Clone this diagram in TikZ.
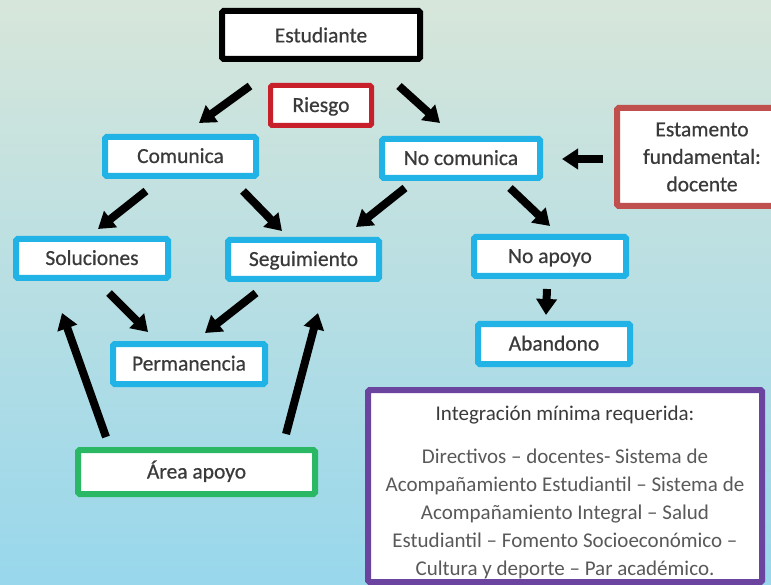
\documentclass[tikz,border=0pt]{standalone}
\usepackage{fontspec}
\setmainfont{Carlito}
\newfontfamily\labfont[FakeBold=0.6]{Carlito}
\usetikzlibrary{arrows.meta,calc}
\definecolor{bgtop}{HTML}{D7E6DA}
\definecolor{bgmid}{HTML}{B6DFE4}
\definecolor{bgbot}{HTML}{98D7EC}
\definecolor{txt}{HTML}{3A3A3A}
\definecolor{txtl}{HTML}{595959}
\definecolor{blu}{HTML}{22B3E6}
\definecolor{rieR}{HTML}{C8202A}
\definecolor{estR}{HTML}{C0504D}
\definecolor{grn}{HTML}{2BB865}
\definecolor{pur}{HTML}{6B44A0}
\begin{document}
\begin{tikzpicture}[x=1pt,y=-1pt,
  box/.style={draw, line width=6pt, fill=white, rounded corners=1.5pt, inner sep=0pt,
    text=txt, font=\labfont\fontsize{21.5}{27.5}\selectfont, align=center},
  oneline/.style={text height=16pt, text depth=3pt},
  bluebox/.style={box, oneline, draw=blu},
  arr/.style={line width=8pt, black, -{Triangle[length=16pt,width=20pt]}}]
\useasboundingbox (0,0) rectangle (771,585);
\clip (0,0) rectangle (771,585);
\shade[top color=bgtop, middle color=bgmid, bottom color=bgbot] (0,0) rectangle (771,585);

\node[box, draw=black, minimum width=198pt, minimum height=48pt] (est) at (321,35) {Estudiante};
\node[box, oneline, draw=rieR, line width=5pt, minimum width=101pt, minimum height=40pt] (rie) at (321,105.5) {Riesgo};
\node[bluebox, minimum width=151pt, minimum height=39pt] (com) at (180.5,156.5) {Comunica};
\node[bluebox, minimum width=152pt, minimum height=39pt] (sol) at (92,258.5) {Soluciones};
\node[bluebox, minimum width=151pt, minimum height=39pt] (seg) at (303.5,259.5) {Seguimiento};
\node[bluebox, minimum width=152pt, minimum height=40pt] (per) at (189,364) {Permanencia};
\node[bluebox, minimum width=158pt, minimum height=39pt] (noc) at (461,158.5) {No comunica};
\node[box, draw=estR, minimum width=170pt, minimum height=98pt] (esta) at (702,157) {Estamento\\fundamental:\\docente};
\node[bluebox, minimum width=152pt, minimum height=39pt] (noa) at (550,256.5) {No apoyo};
\node[bluebox, minimum width=152pt, minimum height=40pt] (aba) at (554,344) {Abandono};
\node[box, oneline, draw=grn, minimum width=237pt, minimum height=44pt] (are) at (196.5,472) {Área apoyo};
\node[box, draw=pur, minimum width=394pt, minimum height=192pt] (int) at (565,486) {};
\node[align=center, inner sep=0pt, text=txtl, font=\fontsize{21}{28}\selectfont] (inttxt) at (565,492)
  {{\color{txt}Integración mínima requerida:}\\[15pt]
   Directivos – docentes- Sistema de\\
   Acompañamiento Estudiantil – Sistema de\\
   Acompañamiento Integral – Salud\\
   Estudiantil – Fomento Socioeconómico –\\
   Cultura y deporte – Par académico.};

\coordinate (fl) at (62,313);
\coordinate (fr) at (318,313);

\draw[arr] ($(est)+(-71,51)$) -- ($(com)+(18.5,-33.5)$);
\draw[arr] ($(est)+(78,51)$) -- ($(noc)+(-21,-35.5)$);
\draw[arr] ($(com)+(-34.5,34.5)$) -- ($(sol)+(6,-29.5)$);
\draw[arr] ($(com)+(62.5,34.5)$) -- ($(seg)+(-21.5,-28.5)$);
\draw[arr] ($(noc)+(-56,29.5)$) -- ($(seg)+(52.5,-32.5)$);
\draw[arr] ($(noc)+(49,29.5)$) -- ($(noa)+(0,-30.5)$);
\draw[arr] ($(esta)+(-99,2)$) -- ($(noc)+(101,0.5)$);
\draw[arr] ($(noa)+(-3,32.5)$) -- ($(aba)+(-8,-29)$);
\draw[arr] ($(sol)+(17,34.5)$) -- ($(per)+(-41,-32)$);
\draw[arr] ($(seg)+(-47.5,33.5)$) -- ($(per)+(16,-31)$);
\draw[arr] ($(are)+(-90.5,-35)$) -- (fl);
\draw[arr] ($(are)+(89.5,-38)$) -- (fr);
\end{tikzpicture}
\end{document}
